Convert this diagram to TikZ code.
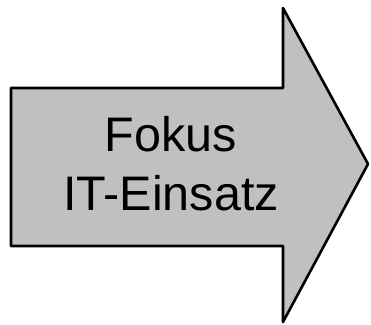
\documentclass[tikz,border=0pt]{standalone}
\usepackage{fontspec}
\setmainfont{Liberation Sans}
\usepackage{xcolor}
\definecolor{arrowgray}{HTML}{C0C0C0}

\begin{document}
\begin{tikzpicture}[x=1pt,y=1pt,line width=2.6pt]

\tikzset{
bigarrow/.style = {draw=black, fill=arrowgray, line join=round},
label/.style = {align=center, font=\fontsize{48.5}{58}\selectfont, inner sep=0pt}
}

\def\shafttop{236}
\def\shaftbot{78}
\def\headx{283}

\useasboundingbox (0,0) rectangle (371,324);

\draw[bigarrow] (11,\shaftbot) -- (11,\shafttop) -- (\headx,\shafttop)
  -- (\headx,316) -- (368,160) -- (\headx,2) -- (\headx,\shaftbot) -- cycle;

\node (focus) [label, anchor=base] at (171,172) {Fokus};
\node (itusage) [label, anchor=base] at (171,114) {IT-Einsatz};

\end{tikzpicture}
\end{document}
